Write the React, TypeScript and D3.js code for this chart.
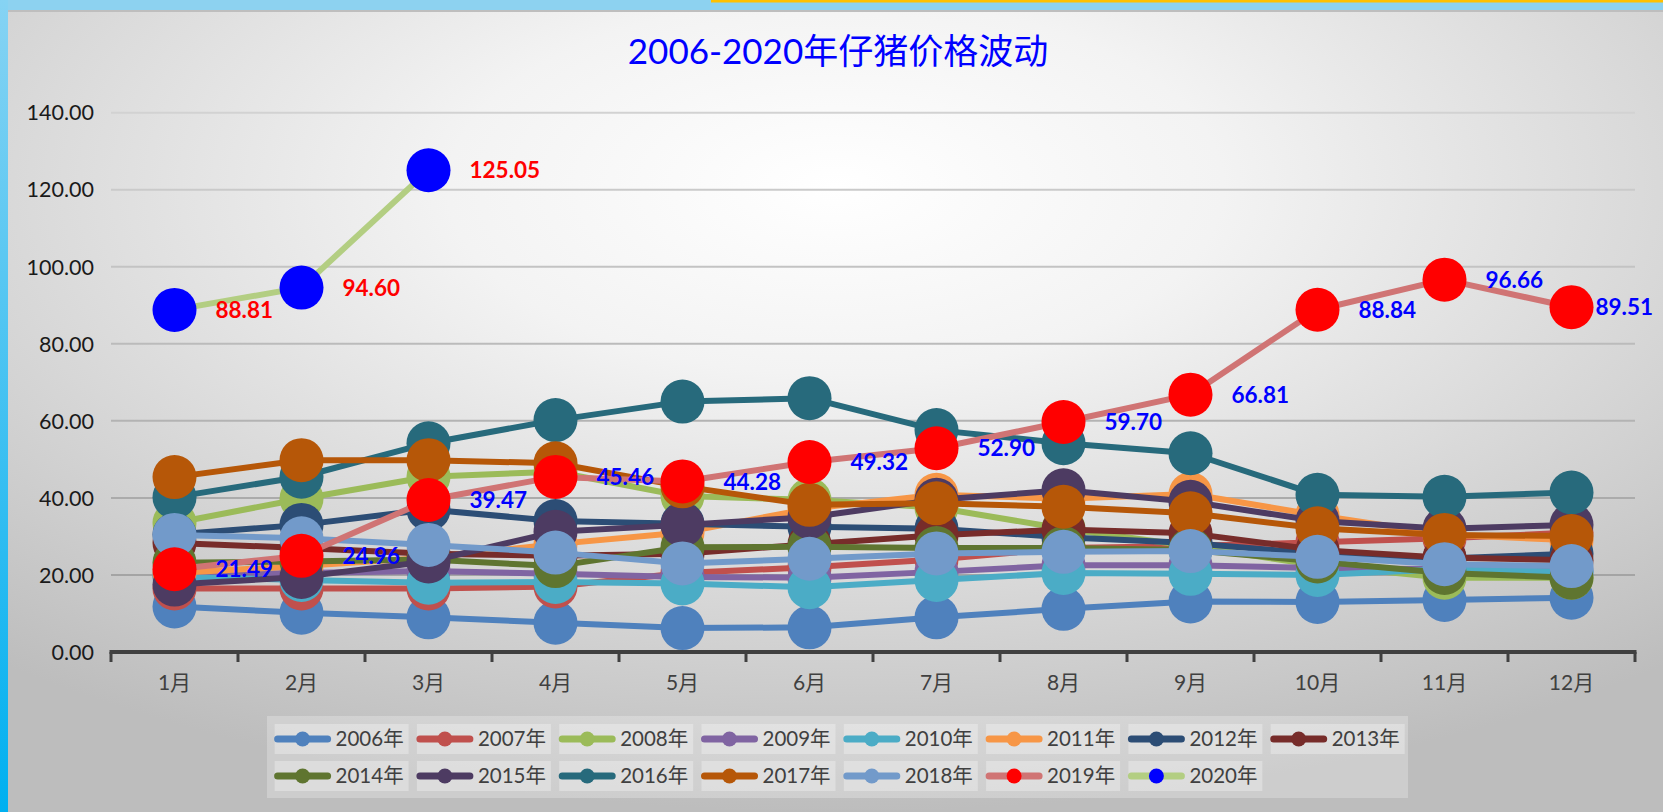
import React from 'react';
import * as d3 from 'd3';

// categories
const months = ['1月', '2月', '3月', '4月', '5月', '6月', '7月', '8月', '9月', '10月', '11月', '12月'];
const yearNames = [
  '2006年', '2007年', '2008年', '2009年', '2010年', '2011年', '2012年', '2013年',
  '2014年', '2015年', '2016年', '2017年', '2018年', '2019年', '2020年',
];

// series values (元/kg)
const v2006 = [11.8, 10.2, 9.0, 7.6, 6.2, 6.4, 9.0, 11.2, 13.1, 13.0, 13.5, 14.1];
const v2007 = [16.5, 16.5, 16.5, 17.0, 20.5, 22.0, 24.0, 27.0, 27.5, 28.5, 29.5, 31.0];
const v2008 = [33.5, 39.8, 45.5, 46.8, 40.5, 39.5, 37.5, 32.0, 27.5, 22.5, 19.3, 19.3];
const v2009 = [20.0, 20.5, 21.0, 20.3, 19.5, 19.3, 20.8, 22.5, 22.5, 21.8, 21.5, 21.0];
const v2010 = [19.5, 18.7, 18.0, 18.2, 17.8, 16.8, 18.7, 20.5, 20.3, 20.0, 21.5, 20.8];
const v2011 = [20.5, 22.3, 24.5, 28.0, 31.0, 37.2, 40.8, 39.8, 41.0, 35.5, 30.5, 29.0];
const v2012 = [30.5, 33.0, 37.0, 34.0, 33.3, 32.5, 32.0, 29.8, 28.3, 25.5, 24.3, 25.5];
const v2013 = [28.3, 27.0, 25.5, 25.0, 25.5, 28.0, 30.3, 31.8, 30.8, 26.5, 24.5, 23.8];
const v2014 = [23.2, 23.5, 24.0, 22.3, 27.2, 27.3, 27.0, 27.0, 26.5, 23.5, 20.5, 19.3];
const v2015 = [17.5, 19.5, 23.5, 31.2, 33.0, 35.0, 39.5, 42.0, 39.0, 34.0, 32.0, 33.0];
const v2016 = [40.2, 45.5, 54.2, 60.2, 65.0, 65.9, 57.6, 54.2, 51.6, 40.8, 40.3, 41.4];
const v2017 = [45.4, 49.8, 49.8, 49.0, 43.0, 38.2, 38.6, 37.7, 36.0, 32.1, 30.4, 30.1];
const v2018 = [30.4, 29.5, 27.8, 25.8, 23.0, 24.2, 25.6, 26.0, 26.2, 24.7, 22.8, 22.3];
const v2019 = [21.49, 24.96, 39.47, 45.46, 44.28, 49.32, 52.9, 59.7, 66.81, 88.84, 96.66, 89.51];
const v2020 = [88.81, 94.6, 125.05];

const seriesValues = [
  v2006, v2007, v2008, v2009, v2010, v2011, v2012, v2013,
  v2014, v2015, v2016, v2017, v2018, v2019, v2020,
];

const lineColors = [
  '#4F81BD', '#C0504D', '#9BBB59', '#8064A2', '#4BACC6', '#F79646', '#2C4D75', '#772C2A',
  '#5F7530', '#4D3B62', '#276A7C', '#B65708', '#729ACA', '#D07474', '#B3CE82',
];
const markerColors = lineColors.map((c, i) => (i === 13 ? '#FF0000' : i === 14 ? '#0000FF' : c));
// which series carry data labels, and in which colour
const labelColors: Record<number, string> = { 13: '#0000FF', 14: '#FF0000' };

const yTicks = [0, 20, 40, 60, 80, 100, 120, 140];

const W = 1663;
const H = 812;
const FONT = "Lato, 'Noto Sans CJK SC', sans-serif";

function labelWidth(s: string, size: number) {
  let w = 0;
  for (const ch of s) w += ch === '.' ? 0.27 : 0.58;
  return w * size;
}

export default function App() {
  document.body.style.margin = '0';

  // vars
  const left = 111;
  const right = 1635;
  const top = 112.7;
  const bottom = 652;
  const markerR = 22;
  const labelSize = 22.5;

  const x = d3.scaleBand<string>().domain(months).range([left, right]);
  const cx = (i: number) => (x(months[i]) as number) + x.bandwidth() / 2;
  const y = d3.scaleLinear().domain([0, 140]).range([bottom, top]);
  const gridColor = d3.interpolateRgb('#D2D2D2', '#9C9C9C');

  const line = d3
    .line<number>()
    .x((d, i) => cx(i))
    .y(d => y(d));

  const series = seriesValues.map((vals, s) => (
    <g key={yearNames[s]}>
      <path
        d={line(vals) || ''}
        fill="none"
        stroke={lineColors[s]}
        strokeWidth={6}
        strokeLinejoin="round"
        strokeLinecap="round"
      />
      {vals.map((v, i) => (
        <circle key={i} cx={cx(i)} cy={y(v)} r={markerR} fill={markerColors[s]} />
      ))}
    </g>
  ));

  const labels = Object.keys(labelColors).map(k => {
    const s = Number(k);
    return seriesValues[s].map((v, i) => {
      const txt = v.toFixed(2);
      let lx = cx(i) + 41;
      let anchor = 'start';
      if (lx + labelWidth(txt, labelSize) > 1653) {
        lx = 1653;
        anchor = 'end';
      }
      return (
        <text
          key={`${s}-${i}`}
          x={lx}
          y={y(v)}
          dy="0.36em"
          textAnchor={anchor}
          fontFamily={FONT}
          fontWeight={700}
          fontSize={labelSize}
          fill={labelColors[s]}>
          {txt}
        </text>
      );
    });
  });

  // legend
  const legendLeft = 274.6;
  const pitch = 142.3;
  const legendItems = yearNames.map((name, i) => {
    const row = Math.floor(i / 8);
    const col = i % 8;
    const bx = legendLeft + col * pitch;
    const by = row === 0 ? 724 : 761;
    const my = by + 15;
    return (
      <g key={name}>
        <rect x={bx} y={by} width={134} height={30} fill="#FFFFFF" opacity={0.3} />
        <line x1={bx + 3} x2={bx + 53} y1={my} y2={my} stroke={lineColors[i]} strokeWidth={7} strokeLinecap="round" />
        <circle cx={bx + 28} cy={my} r={7.5} fill={markerColors[i]} />
        <text x={bx + 61} y={my} dy="0.36em" fontFamily={FONT} fontSize={20.5} fill="#404040">
          {name}
        </text>
      </g>
    );
  });

  return (
    <svg width={W} height={H} style={{ display: 'block' }}>
      <defs>
        <radialGradient id="bg" cx="50%" cy="22%" r="78%">
          <stop offset="0" stopColor="#FFFFFF" />
          <stop offset="0.3" stopColor="#F3F3F3" />
          <stop offset="1" stopColor="#BDBDBD" />
        </radialGradient>
        <linearGradient id="side" x1="0" y1="0" x2="0" y2="1">
          <stop offset="0" stopColor="#86D3F3" />
          <stop offset="1" stopColor="#00B0F0" />
        </linearGradient>
      </defs>

      {/* frame */}
      <rect x={0} y={0} width={W} height={H} fill="#8DD2F0" />
      <rect x={8} y={10} width={W - 8} height={H - 10} fill="url(#bg)" />
      <rect x={8} y={10} width={W - 8} height={2} fill="#BEBEBE" />
      <rect x={0} y={0} width={8} height={H} fill="url(#side)" />
      <rect x={711} y={0} width={W - 711} height={2.5} fill="#FFC000" />

      {/* title */}
      <text x={838} y={51} dy="0.36em" textAnchor="middle" fontFamily={FONT} fontSize={35} fill="#0000FF">
        2006-2020年仔猪价格波动
      </text>

      {/* grid + y axis */}
      {yTicks.map(t => (
        <g key={t}>
          {t > 0 && (
            <line x1={left} x2={right} y1={y(t)} y2={y(t)} stroke={gridColor(1 - t / 140)} strokeWidth={2} />
          )}
          <text x={94} y={y(t)} dy="0.36em" textAnchor="end" fontFamily={FONT} fontSize={21.5} fill="#1A1A1A">
            {t.toFixed(2)}
          </text>
        </g>
      ))}

      {/* x axis */}
      <line x1={left - 1.5} x2={right + 1.5} y1={bottom} y2={bottom} stroke="#404040" strokeWidth={4} />
      {d3.range(months.length + 1).map(i => {
        const tx = left + i * x.bandwidth();
        return <line key={i} x1={tx} x2={tx} y1={bottom} y2={bottom + 10} stroke="#404040" strokeWidth={3} />;
      })}
      {months.map((m, i) => (
        <text key={m} x={cx(i)} y={682} dy="0.36em" textAnchor="middle" fontFamily={FONT} fontSize={21} fill="#404040">
          {m}
        </text>
      ))}

      {series}
      {labels}

      <rect x={267} y={716} width={1141} height={82} fill="#FFFFFF" opacity={0.25} />
      {legendItems}
    </svg>
  );
}
